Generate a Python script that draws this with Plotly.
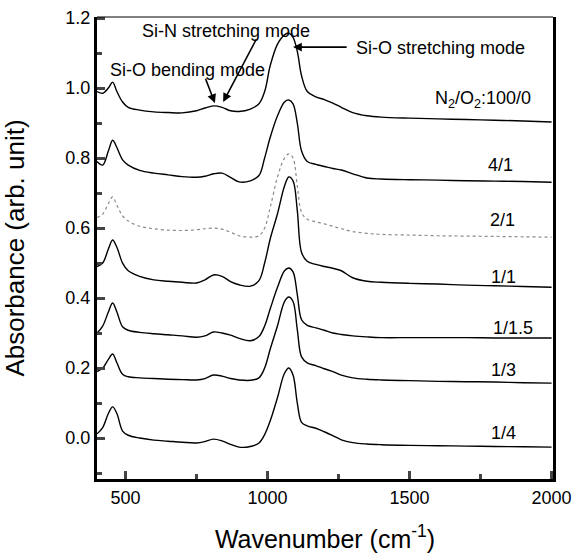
import plotly.graph_objects as go

wavenumber = [400, 420, 440, 455, 470, 490, 510, 550, 600, 650, 700, 750, 780, 810, 840, 870, 900, 940, 970, 990,
              1010, 1035, 1060, 1075, 1090, 1105, 1120, 1140, 1170, 1200, 1230, 1260, 1300, 1350, 1400, 1500, 1600,
              1700, 1800, 1900, 2000]

s_100_0 = [0.99, 0.985, 1.0, 1.017, 0.99, 0.96, 0.945, 0.937, 0.932, 0.93, 0.929, 0.935, 0.943, 0.949, 0.945, 0.935,
           0.933, 0.94, 0.955, 0.99, 1.065, 1.125, 1.152, 1.157, 1.145, 1.105, 1.035, 0.99, 0.975, 0.967, 0.957,
           0.945, 0.93, 0.921, 0.917, 0.914, 0.912, 0.91, 0.908, 0.906, 0.903]
s_4_1 = [0.79, 0.78, 0.82, 0.851, 0.83, 0.795, 0.78, 0.765, 0.757, 0.752, 0.747, 0.745, 0.748, 0.755, 0.757, 0.745,
         0.732, 0.735, 0.75, 0.8, 0.86, 0.92, 0.96, 0.966, 0.955, 0.9, 0.82, 0.79, 0.782, 0.776, 0.77, 0.766,
         0.755, 0.743, 0.74, 0.738, 0.737, 0.735, 0.734, 0.733, 0.731]
s_2_1 = [0.63, 0.64, 0.67, 0.689, 0.665, 0.635, 0.62, 0.605, 0.598, 0.594, 0.593, 0.595, 0.598, 0.6, 0.597, 0.588,
         0.578, 0.574, 0.578, 0.6, 0.66, 0.745, 0.8, 0.812, 0.8, 0.72, 0.645, 0.625, 0.618, 0.612, 0.605, 0.598,
         0.59, 0.585, 0.582, 0.58, 0.578, 0.577, 0.576, 0.575, 0.574]
s_1_1 = [0.49, 0.5, 0.54, 0.566, 0.545, 0.5, 0.478, 0.462, 0.452, 0.448, 0.445, 0.443, 0.452, 0.466, 0.462, 0.447,
         0.438, 0.434, 0.45, 0.5, 0.57, 0.64, 0.72, 0.746, 0.735, 0.65, 0.53, 0.505, 0.496, 0.49, 0.485, 0.478,
         0.458, 0.448, 0.445, 0.442, 0.44, 0.437, 0.435, 0.433, 0.431]
s_1_1p5 = [0.3, 0.32, 0.36, 0.386, 0.36, 0.318, 0.308, 0.302, 0.298, 0.295, 0.292, 0.288, 0.292, 0.303, 0.3, 0.294,
           0.285, 0.278, 0.29, 0.32, 0.37, 0.43, 0.478, 0.486, 0.475, 0.41, 0.338, 0.322, 0.315, 0.308, 0.3, 0.296,
           0.292, 0.289, 0.287, 0.287, 0.287, 0.287, 0.286, 0.286, 0.286]
s_1_3 = [0.19, 0.2, 0.225, 0.24, 0.215, 0.182, 0.175, 0.172, 0.17, 0.168, 0.167, 0.166, 0.17, 0.18, 0.177, 0.17,
         0.166, 0.165, 0.172, 0.2, 0.255, 0.32, 0.39, 0.403, 0.39, 0.31, 0.232, 0.215, 0.207, 0.198, 0.19, 0.18,
         0.172, 0.168, 0.166, 0.164, 0.162, 0.161, 0.16, 0.158, 0.157]
s_1_4 = [0.012, 0.03, 0.07, 0.089, 0.07, 0.02, 0.008, 0.0, -0.006, -0.009, -0.012, -0.014, -0.01, -0.003, -0.008,
         -0.018, -0.026, -0.024, -0.014, 0.01, 0.05, 0.115, 0.185, 0.2, 0.18, 0.1, 0.045, 0.035, 0.028, 0.018,
         0.007, -0.005, -0.013, -0.017, -0.019, -0.021, -0.022, -0.023, -0.024, -0.025, -0.026]

series_names = ["N<sub>2</sub>/O<sub>2</sub>:100/0", "4/1", "2/1", "1/1", "1/1.5", "1/3", "1/4"]
series_values = [s_100_0, s_4_1, s_2_1, s_1_1, s_1_1p5, s_1_3, s_1_4]
label_x = [1759, 1819, 1826, 1830, 1865, 1830, 1830]
label_y = [0.966, 0.78, 0.623, 0.46, 0.314, 0.194, 0.014]

FONT = "Liberation Sans, Arial, sans-serif"

fig = go.Figure()
for name, vals in zip(series_names, series_values):
    gray = name == "2/1"
    fig.add_trace(go.Scatter(
        x=wavenumber, y=vals, mode="lines", name=name, line_shape="spline",
        line=dict(color="#8a8a8a" if gray else "black", width=1.2 if gray else 1.4,
                  dash="dot" if gray else "solid"),
        showlegend=False))

for name, lx, ly in zip(series_names, label_x, label_y):
    fig.add_annotation(x=lx, y=ly, text=name, showarrow=False, xanchor="center", yanchor="middle",
                       font=dict(size=18, color="black", family=FONT))

# mode labels
fig.add_annotation(x=854, y=1.163, text="Si-N stretching mode", showarrow=False,
                   font=dict(size=18, color="black", family=FONT))
fig.add_annotation(x=717, y=1.051, text="Si-O bending mode", showarrow=False,
                   font=dict(size=18, color="black", family=FONT))
fig.add_annotation(x=1306, y=1.114, text="Si-O stretching mode", showarrow=False, xanchor="left",
                   font=dict(size=18, color="black", family=FONT))
# arrows
for (hx, hy, tx, ty) in [(844, 0.96, 963, 1.143), (815, 0.957, 780, 1.031), (1090, 1.117, 1284, 1.117)]:
    fig.add_annotation(x=hx, y=hy, ax=tx, ay=ty, xref="x", yref="y", axref="x", ayref="y",
                       text="", showarrow=True, arrowhead=2, arrowsize=1.1, arrowwidth=1.6,
                       arrowcolor="black")

# thin top frame line
fig.add_shape(type="line", xref="paper", yref="paper", x0=0, x1=1, y0=1, y1=1,
              line=dict(color="black", width=1))

fig.update_layout(
    width=573, height=553,
    margin=dict(l=97, r=20, t=17, b=74, autoexpand=False),
    paper_bgcolor="white", plot_bgcolor="white",
    font=dict(family=FONT, size=18, color="black"),
    xaxis=dict(range=[400, 2005], tickvals=[500, 1000, 1500, 2000], ticks="inside", ticklen=8, tickwidth=2.5,
               minor=dict(tickvals=[750, 1250, 1750], ticks="inside", ticklen=5, tickwidth=2.5),
               showline=True, linewidth=3, linecolor="black", mirror=False, showgrid=False, zeroline=False,
               automargin=False,
               tickfont=dict(size=18, family=FONT),
               title=dict(text="Wavenumber (cm<sup>-1</sup>)", font=dict(size=25, family=FONT), standoff=25)),
    yaxis=dict(range=[-0.117, 1.203], tickvals=[0.0, 0.2, 0.4, 0.6, 0.8, 1.0, 1.2], tickformat=".1f",
               ticks="inside", ticklen=8, tickwidth=2.5,
               minor=dict(tickvals=[-0.1, 0.1, 0.3, 0.5, 0.7, 0.9, 1.1], ticks="inside", ticklen=5, tickwidth=2.5),
               showline=True, linewidth=3, linecolor="black", mirror=True, showgrid=False, zeroline=False,
               automargin=False,
               tickfont=dict(size=18, family=FONT),
               title=dict(text="Absorbance (arb. unit)", font=dict(size=26, family=FONT), standoff=36)),
)

fig.write_html("out.html", config={"displayModeBar": False},
               post_script="document.body.style.margin='0';document.body.style.overflow='hidden';")
